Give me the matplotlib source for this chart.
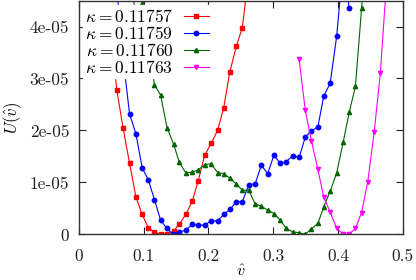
import matplotlib
matplotlib.use("Agg")
import matplotlib.pyplot as plt

plt.rcParams['font.family'] = 'serif'
plt.rcParams['font.serif'] = ['cmr10', 'DejaVu Serif']
plt.rcParams['mathtext.fontset'] = 'cm'
plt.rcParams['axes.unicode_minus'] = False

# kappa = 0.11757
v_a = [0.049, 0.0583, 0.068, 0.078, 0.088, 0.0975, 0.107, 0.1165, 0.126, 0.136, 0.146,
       0.155, 0.165, 0.175, 0.184, 0.194, 0.204, 0.214, 0.2235, 0.233, 0.243, 0.2523, 0.262]
u_a = [3.9, 2.78, 2.05, 1.37, 0.715, 0.383, 0.126, 0.038, 0.0, 0.006, 0.063,
       0.20, 0.383, 0.644, 1.027, 1.519, 1.749, 2.0, 2.44, 3.13, 3.62, 3.98, 5.0]

# kappa = 0.11759
v_b = [0.0585, 0.068, 0.078, 0.088, 0.0975, 0.107, 0.1165, 0.126, 0.1355, 0.145, 0.155,
       0.165, 0.175, 0.184, 0.194, 0.204, 0.214, 0.2235, 0.233, 0.243, 0.2523, 0.262,
       0.272, 0.2816, 0.2914, 0.301, 0.311, 0.320, 0.330, 0.340, 0.3495, 0.359, 0.369,
       0.378, 0.388, 0.398, 0.408, 0.4174]
u_b = [4.7, 3.4, 2.32, 1.93, 1.28, 1.05, 0.67, 0.274, 0.115, 0.006, 0.045,
       0.082, 0.19, 0.178, 0.178, 0.26, 0.26, 0.383, 0.479, 0.625, 0.625, 0.958,
       0.97, 1.33, 1.17, 1.52, 1.37, 1.40, 1.51, 1.48, 1.87, 1.99, 2.07,
       2.66, 2.91, 3.81, 5.2, 4.35]

# kappa = 0.11760
v_c = [0.078, 0.088, 0.0975, 0.107, 0.1165, 0.126, 0.136, 0.146, 0.155, 0.165, 0.175,
       0.184, 0.194, 0.204, 0.214, 0.2235, 0.233, 0.243, 0.2523, 0.262, 0.272, 0.2816,
       0.2914, 0.301, 0.311, 0.320, 0.330, 0.340, 0.3495, 0.359, 0.369, 0.378, 0.388,
       0.398, 0.408, 0.4174, 0.427, 0.4365, 0.446]
u_c = [4.9, 4.25, 4.45, 3.65, 2.88, 2.68, 2.05, 1.74, 1.385, 1.18, 1.20,
       1.24, 1.34, 1.36, 1.19, 1.17, 1.08, 0.97, 0.85, 0.85, 0.59, 0.54,
       0.466, 0.40, 0.274, 0.115, 0.05, 0.03, 0.0, 0.107, 0.21, 0.53, 0.83,
       1.18, 1.77, 2.35, 2.85, 4.35, 5.8]

# kappa = 0.11763
v_d = [0.340, 0.3495, 0.359, 0.369, 0.378, 0.388, 0.398, 0.408, 0.4174, 0.427, 0.4365,
       0.446, 0.456, 0.4655, 0.4755]
u_d = [3.37, 2.39, 1.80, 1.25, 0.715, 0.43, 0.115, 0.006, 0.006, 0.115, 0.42,
       1.01, 1.97, 3.11, 4.93]

labels = [r'$\kappa = 0.11757$', r'$\kappa = 0.11759$', r'$\kappa = 0.11760$', r'$\kappa = 0.11763$']
xticks = [0, 0.1, 0.2, 0.3, 0.4, 0.5]
xticklabels = ['0', '0.1', '0.2', '0.3', '0.4', '0.5']
yticks = [0, 1e-5, 2e-5, 3e-5, 4e-5]
yticklabels = ['0', '1e-05', '2e-05', '3e-05', '4e-05']

fig = plt.figure(figsize=(4.16, 2.80), dpi=100)
ax = fig.add_axes([0.19, 0.163, 0.778, 0.835])

scale = 1e-5
series = [
    (v_a, u_a, '#ff0000', 's', 3.0),
    (v_b, u_b, '#0000ff', 'o', 3.2),
    (v_c, u_c, '#006400', '^', 3.0),
    (v_d, u_d, '#ff00ff', 'v', 3.0),
]
for (vs, us, col, mk, ms), lab in zip(series, labels):
    ax.plot(vs, [u * scale for u in us], color=col, marker=mk, markersize=ms,
            linewidth=0.8, label=lab, clip_on=True)

ax.set_xlim(0, 0.5)
ax.set_ylim(0, 4.5e-5)
ax.set_xticks(xticks)
ax.set_xticklabels(xticklabels)
ax.set_yticks(yticks)
ax.set_yticklabels(yticklabels)
ax.tick_params(direction='in', top=True, right=True, length=5, width=0.8,
               labelsize=12.5, pad=7, colors='#222222', labelcolor='#222222')
ax.tick_params(axis='x', pad=10)
for s in ax.spines.values():
    s.set_linewidth(1.0)
    s.set_color('#333333')

ax.set_xlabel(r'$\hat{v}$', fontsize=11.5)
ax.xaxis.set_label_coords(0.5, -0.125)
ax.set_ylabel(r'$U(\hat{v})$', fontsize=12, labelpad=4)

leg = ax.legend(loc='upper left', bbox_to_anchor=(0.0, 0.995), markerfirst=False,
                frameon=True, fancybox=False, framealpha=1.0, edgecolor='white',
                facecolor='white', fontsize=12.5, handlelength=1.45, handletextpad=0.6,
                borderpad=0.15, labelspacing=0.0, borderaxespad=0.2)

fig.savefig('out.png', dpi=100)
